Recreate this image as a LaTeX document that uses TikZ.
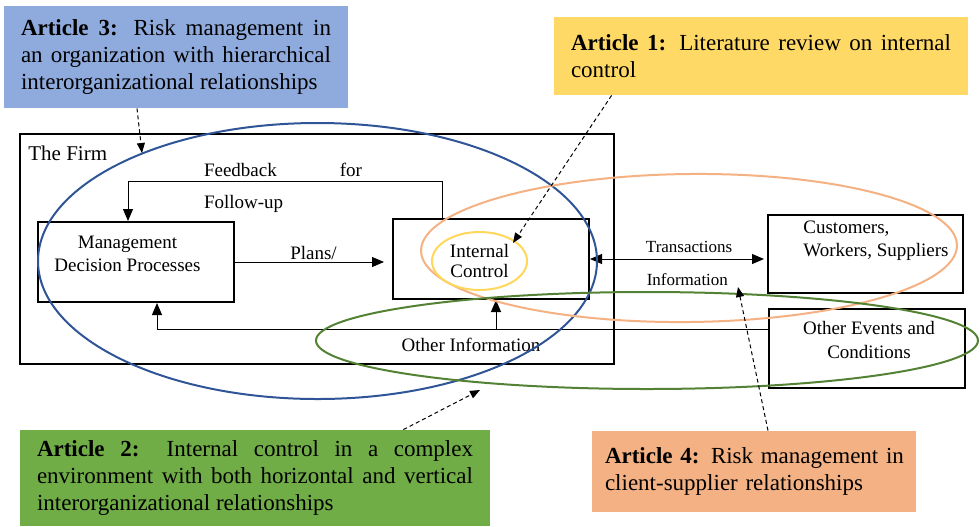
\documentclass[tikz,border=0pt]{standalone}
\usepackage{fontspec}
\setmainfont{Liberation Serif}
\usetikzlibrary{arrows.meta,shapes.geometric}
\definecolor{artblue}{HTML}{8FAADC}
\definecolor{artyellow}{HTML}{FFD966}
\definecolor{artgreen}{HTML}{70AD47}
\definecolor{artorange}{HTML}{F4B183}
\definecolor{setblue}{HTML}{2F5597}
\definecolor{setyellow}{HTML}{FFD75A}
\definecolor{setgreen}{HTML}{548235}
\definecolor{setorange}{HTML}{F4B183}

\begin{document}
\begin{tikzpicture}[x=0.5pt, y=-0.5pt,
  art/.style={fill=#1, inner xsep=8.5pt, inner ysep=0pt, align=justify,
              font=\fontsize{11.5}{13.5}\selectfont},
  bx/.style={draw, line width=1pt, inner sep=0pt},
  txt/.style={align=center, inner sep=0pt, font=\fontsize{9.5}{11.5}\selectfont},
  sm/.style={inner sep=0pt, font=\fontsize{8.5}{10}\selectfont},
  ring/.style={ellipse, draw=#1, line width=1pt, inner sep=0pt},
  a/.style={-{Triangle[length=6pt, width=5pt]}, line width=0.5pt},
  aa/.style={{Triangle[length=6pt, width=5pt]}-{Triangle[length=6pt, width=5pt]}, line width=0.5pt},
  da/.style={-{Triangle[length=5pt, width=4pt]}, line width=0.5pt, dash pattern=on 2pt off 1.5pt}]

\useasboundingbox (0,0) rectangle (980,526);

\node[art=artblue, text width=155pt, minimum height=51pt] (art3) at (176,57)
      {\textbf{Article 3:} Risk management in\linebreak an organization with hierarchical\linebreak interorganizational relationships};
\node[art=artyellow, text width=190pt, minimum height=39pt] (art1) at (761,56)
      {\textbf{Article 1:} Literature review on internal\linebreak control};
\node[art=artgreen, text width=218pt, minimum height=48pt] (art2) at (255,478)
      {\textbf{Article 2:} Internal control in a complex\linebreak environment with both horizontal and vertical\linebreak interorganizational relationships};
\node[art=artorange, text width=149pt, inner xsep=6.5pt, minimum height=40.5pt, align=left] (art4) at (754,471.5)
      {\mbox{\textbf{Article 4:} Risk management in}\\client-supplier relationships};

\node[bx, minimum width=297pt, minimum height=115pt] (firm) at (317,249) {};
\node[anchor=west, inner sep=0pt, font=\fontsize{10.5}{12}\selectfont] (firmlbl) at (28,153) {The Firm};

\node[bx, minimum width=98pt, minimum height=40pt] (mgmt) at (136,262) {};
\node[txt] (mgmttxt) at (127.5,254) {Management\\Decision Processes};
\node[bx, minimum width=98pt, minimum height=40pt] (icbox) at (491,259) {};
\node[bx, minimum width=97.5pt, minimum height=39pt] (cust) at (865.5,254) {};
\node[txt, anchor=west, align=left] (custtxt) at (803,241) {Customers,\\Workers, Suppliers};
\node[bx, minimum width=98pt, minimum height=39.5pt] (other) at (867,348.5) {};
\node[txt, font=\fontsize{9.5}{12}\selectfont] (othertxt) at (869,340) {Other Events and\\Conditions};

\node[txt, text width=79pt, align=justify, font=\fontsize{9.5}{16}\selectfont] (fbtxt) at (283,188)
      {Feedback for\linebreak Follow-up};
\coordinate (fbr) at (442,181);
\coordinate (fbl) at (128,181);
\draw[a] (fbr |- icbox.north) |- (fbl) -- (fbl |- mgmt.north);

\draw[a, shorten >=4pt] (mgmt.east) -- node[above, txt, inner sep=1pt] (plans) {Plans/} (mgmt.east -| icbox.west);

\draw[aa, shorten >=1.5pt] (icbox.east) --
      node[above, sm, pos=.56, inner sep=3pt] (trans) {Transactions}
      node[below, sm, pos=.55, inner sep=7pt] (info) {Information}
      (icbox.east -| cust.west);

\coordinate (oi) at (157,329);
\coordinate (oj) at (496,329);
\draw[a] (other.west |- oi) -- (oi) -- (mgmt.south -| oi);
\draw[a] (oj) -- (icbox.south -| oj);
\node[txt] (othinfo) at (471,345) {Other Information};

\node[ring=setblue, minimum width=279.5pt, minimum height=138pt] (set3) at (317.5,261) {};
\node[ring=setorange, minimum width=268pt, minimum height=74pt, rotate=0.6] (set4) at (689,248) {};
\node[ring=setgreen, minimum width=331pt, minimum height=48.5pt] (set2) at (647,340.5) {};
\node[ring=setyellow, minimum width=47.5pt, minimum height=29pt, txt, font=\fontsize{9.5}{10}\selectfont] (ic) at (479.5,261) {Internal\\Control};

\coordinate (t3) at (142,153);
\coordinate (t1) at (513,243);
\coordinate (t2) at (480,390);
\coordinate (t4) at (738,287);
\draw[da] ([xshift=-19.5pt]art3.south) -- (t3);
\draw[da] ([xshift=29pt]art1.south west) -- (t1);
\draw[da] ([xshift=-43.5pt]art2.north east) -- (t2);
\draw[da] ([xshift=7pt]art4.north) -- (t4);
\end{tikzpicture}
\end{document}
